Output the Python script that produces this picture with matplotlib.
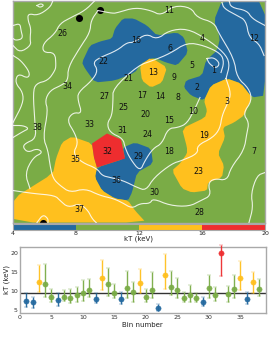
import numpy as np
import matplotlib
matplotlib.use("Agg")
import matplotlib.pyplot as plt
from matplotlib.colors import ListedColormap, BoundaryNorm
from matplotlib.patches import Polygon
from matplotlib.cm import ScalarMappable

GREEN, BLUE, YELLOW, RED = "#7AAC46", "#24699F", "#FFC01E", "#EE2D2F"
EDGE = "#a9a9a9"

bounds = [4, 8, 12, 16, 20]
palette = [BLUE, GREEN, YELLOW, RED]

# ---- spectral-bin map: regions of equal temperature class
region_blue_a = [(82,62),(90,45),(100,41),(112,38),(115,28),(123,18),(134,18),(147,25),(157,35),
                 (177,32),(184,37),(188,52),(177,65),(166,62),(154,57),(141,63),(135,72),(115,80),
                 (95,82),(85,68)]
region_blue_b = [(222,0),(214,20),(220,38),(217,50),(206,60),(202,75),(186,80),(184,87),(191,95),
                 (204,100),(211,85),(227,78),(241,83),(252,97),(265,95),(265,0)]
region_blue_c = [(123,147),(135,142),(151,148),(153,163),(137,172),(132,192),(128,200),(115,198),
                 (102,190),(95,177),(97,167),(125,158)]
region_yellow_a = [(211,85),(204,100),(207,110),(205,117),(182,128),(187,147),(187,153),(180,163),
                   (172,170),(182,188),(192,192),(207,190),(208,182),(222,177),(224,165),(218,153),
                   (225,137),(223,127),(234,122),(244,115),(252,97),(241,83),(227,78)]
region_yellow_b = [(140,65),(151,57),(167,67),(162,82),(151,87),(142,80)]
region_yellow_c = [(13,198),(53,173),(56,158),(62,142),(72,136),(92,143),(94,157),(97,167),(95,177),
                   (102,190),(115,198),(128,200),(135,210),(146,222),(13,222)]
region_red = [(92,143),(107,133),(121,139),(125,158),(97,167),(94,157)]
map_regions = [(region_blue_a, BLUE), (region_blue_b, BLUE), (region_blue_c, BLUE),
               (region_yellow_a, YELLOW), (region_yellow_b, YELLOW), (region_yellow_c, YELLOW),
               (region_red, RED)]

# ---- brightness contours over the map
contours = [
    [(37,5),(41,3),(44,5),(40,7),(37,5)],
    [(53,0),(50,7),(38,15),(28,13),(28,20),(31,28),(30,38),(31,45),(20,52),(13,45)],
    [(13,25),(20,23),(21,30),(23,38),(16,40),(13,38)],
    [(13,55),(21,60),(30,72),(28,78),(18,73),(15,82),(23,92),(23,103),(13,122)],
    [(13,125),(23,125),(29,128),(23,131),(13,137)],
    [(95,0),(85,10),(71,17),(60,23),(55,33),(43,43),(43,52),(55,52),(56,65),(55,70),(48,80),(36,83),(33,92),
     (35,123),(36,138),(25,143),(23,147),(28,152),(37,148),(43,152),(33,157),(25,173),(30,188)],
    [(98,10),(113,13),(118,12),(135,7),(151,10),(161,15),(174,5),(191,7),(197,17),(214,22),(219,33),(234,58),
     (237,77),(249,88),(252,100),(243,113),(249,122),(247,132),(244,150),(231,167),(227,180),(214,178),
     (208,183),(211,195),(201,200),(189,206),(170,205),(153,198),(150,203),(140,203),(132,208),(122,202),
     (113,198),(100,195),(85,188),(70,192),(60,185),(53,178),(50,165),(48,150),(43,137),(48,110),(45,100),
     (50,90),(61,85),(68,80),(68,67),(80,47),(90,32),(91,20),(98,10)],
    [(207,58),(214,57),(220,63),(216,68),(209,63),(207,58)],
    [(221,72),(224,62),(221,53),(204,45),(187,42),(170,53),(153,60),(138,65),(113,88),(113,100),(112,115),
     (107,123),(110,132),(123,138),(125,147),(130,158),(140,171),(145,160),(153,148),(162,143),(168,128),
     (178,127),(187,123),(195,108),(200,97)],
    [(226,78),(230,63),(224,52),(206,38),(187,28),(169,30),(157,39),(146,33),(134,42),(127,42),(117,50),
     (100,57),(93,62),(98,70),(92,80),(78,92),(78,100),(82,113),(73,112),(67,120),(75,133),(78,143),(73,153),
     (82,162),(97,168),(102,175),(110,177),(123,180),(137,187),(146,190),(154,177),(172,163),(182,160),
     (198,153),(197,145),(213,137),(220,128),(222,115),(228,102),(231,93),(226,78)],
    [(229,0),(231,7),(247,10),(252,18),(265,25)],
    [(222,2),(224,8),(237,15),(246,20),(249,37),(259,43),(264,55)],
    [(265,172),(257,175),(251,193),(253,207),(249,222)],
    [(13,190),(33,193),(55,195),(60,200),(68,207),(80,203),(88,210),(92,218),(97,223)],
    [(37,222),(43,214),(48,218),(48,222)],
]

dots_x = [79, 100, 43]
dots_y = [17, 9, 222]

label_x = [214,197,227,202,192,170,254,178,174,193,169,254,153,160,169,136,142,169,204,145,128,103,198,147,
           123,62,104,199,138,154,122,107,89,67,75,116,79,37]
label_y = [70,87,101,38,65,48,151,97,77,111,10,38,72,96,120,40,95,151,135,114,78,61,171,134,
           107,33,96,212,156,192,130,151,124,86,159,180,209,127]

# ---- temperature per bin
bins = np.arange(1, 39)
kt = [7.4,7.0,12.3,11.8,8.5,7.6,8.5,8.1,8.9,9.4,10.3,7.8,13.5,11.8,9.6,7.8,10.8,9.7,12.2,8.5,10.3,5.6,14.3,
      11.2,10.3,8.1,9.1,8.1,7.2,10.9,8.9,20.0,9.3,10.5,13.4,7.9,12.3,10.5]
kt_hi = [9.4,8.5,16.9,17.2,10.5,9.4,10.3,10.5,11.1,12.9,13.1,9.4,18.2,16.0,11.8,9.7,15.4,12.3,15.8,10.5,15.1,
         6.6,19.8,15.3,13.6,9.7,11.6,9.4,8.5,14.4,11.2,22.2,11.4,14.3,18.0,9.9,15.1,13.1]
kt_lo = [5.7,5.6,9.7,8.5,7.0,6.1,7.5,6.8,7.2,7.5,8.5,6.8,10.3,8.8,8.1,6.5,8.1,7.2,9.4,7.2,8.3,4.7,10.5,9.0,
         8.1,7.0,7.2,7.0,6.1,8.1,7.5,14.1,7.2,8.3,10.3,6.6,9.4,8.8]
kt_mean = 9.4


def smooth(pts, closed=False, w=0.75):
    p = np.asarray(pts, float)
    if closed:
        q = np.roll(p, -1, axis=0)
        return np.vstack([[w*a+(1-w)*b, (1-w)*a+w*b] for a, b in zip(p, q)])
    out = [p[0]]
    for a, b in zip(p[:-1], p[1:]):
        out += [w*a+(1-w)*b, (1-w)*a+w*b]
    out.append(p[-1])
    return np.array(out)


W, H = 269, 345
fig = plt.figure(figsize=(W/100, H/100), dpi=100, facecolor="white")
def box(x0, y0, x1, y1):
    return [x0/W, 1-y1/H, (x1-x0)/W, (y1-y0)/H]

ax = fig.add_axes(box(13, 0.5, 265, 222.5))
ax.set_facecolor(GREEN)
ax.set_xlim(13, 265)
ax.set_ylim(222, 0)
ax.set_xticks([]); ax.set_yticks([])
for s in ax.spines.values():
    s.set_color(EDGE); s.set_linewidth(1)
for pts, col in map_regions:
    shape = pts if col == RED else smooth(pts, closed=True, w=0.85)
    ax.add_patch(Polygon(shape, closed=True, fc=col, ec="none", zorder=1))
ax.scatter(dots_x, dots_y, s=26, color="black", zorder=2, linewidths=0)
for c in contours:
    s = smooth(smooth(c))
    ax.plot(s[:, 0], s[:, 1], color="white", lw=0.8, alpha=0.85, zorder=3, solid_joinstyle="round")
for i, (x, y) in enumerate(zip(label_x, label_y), start=1):
    ax.text(x, y, str(i), ha="center", va="center", fontsize=5.7, color="#111111", zorder=5)

cax = fig.add_axes(box(13, 224, 265, 230))
cmap = ListedColormap(palette)
norm = BoundaryNorm(bounds, cmap.N)
cb = fig.colorbar(ScalarMappable(norm=norm, cmap=cmap), cax=cax, orientation="horizontal", ticks=bounds)
cb.outline.set_edgecolor(EDGE); cb.outline.set_linewidth(0.8)
cb.ax.tick_params(length=0, pad=0.5, labelsize=4.5, labelcolor="#222222")
cb.set_label("kT (keV)", fontsize=5, labelpad=0, color="#222222")
cb.dividers.set_visible(False)

lax = fig.add_axes(box(20, 247, 265.5, 313))
lax.set_xlim(0, 39)
lax.set_ylim(4.2, 21.7)
lax.axhline(kt_mean, color="#333333", lw=1, zorder=1)
for b, v, hi, lo in zip(bins, kt, kt_hi, kt_lo):
    col = palette[np.searchsorted(bounds, v, side="right") - 1] if v < 20 else RED
    lax.errorbar([b], [v], yerr=[[v-lo], [hi-v]], fmt="o", ms=3.8, color=col, ecolor=col, elinewidth=1,
                 capsize=1.5, capthick=0.5, mew=0.3, mec=col, zorder=3, clip_on=False, alpha=0.95)
lax.set_xticks(range(0, 36, 5))
lax.set_yticks([5, 10, 15, 20])
lax.tick_params(length=0, pad=1.5, labelsize=4.5, labelcolor="#333333")
lax.set_xlabel("Bin number", fontsize=5, color="#222222")
lax.set_ylabel("kT (keV)", fontsize=5, color="#222222")
lax.xaxis.set_label_coords(0.5, -0.129)
lax.yaxis.set_label_coords(-0.041, 0.5)
for s in lax.spines.values():
    s.set_color(EDGE); s.set_linewidth(1)

fig.savefig("out.png", dpi=100)
